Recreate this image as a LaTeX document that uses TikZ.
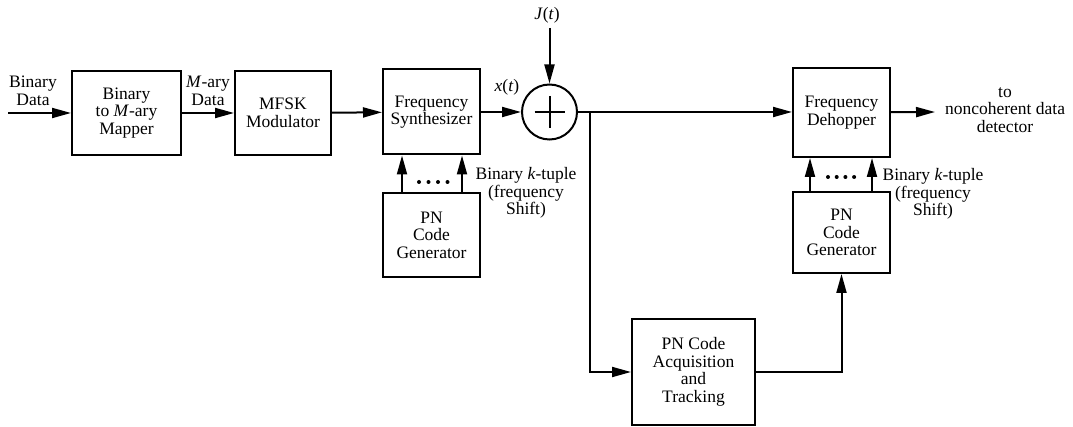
\documentclass[tikz,border=0pt]{standalone}
\usepackage{fontspec}
\setmainfont{Liberation Serif}
\usetikzlibrary{arrows.meta,calc}
\newcommand{\dfont}{\fontsize{17.5}{17.5}\selectfont}
\begin{document}
\begin{tikzpicture}[x=1pt,y=-1pt,
  blk/.style={draw,line width=2pt,align=center,inner sep=0pt,font=\dfont},
  lbl/.style={align=center,inner sep=0pt,font=\dfont},
  ln/.style={line width=2pt},
  arr/.style={line width=2pt,-{Triangle[length=19pt,width=10pt]}}]
\useasboundingbox (0,0) rectangle (1073,427);
% blocks
\node[blk,minimum width=109pt,minimum height=84pt] (map) at (126.5,113) {Binary\\to \textit{M}-ary\\Mapper};
\node[blk,minimum width=96pt,minimum height=84pt] (mod) at (283,113) {MFSK\\Modulator};
\node[blk,minimum width=97pt,minimum height=85pt] (syn) at (431.5,112) {Frequency\\Synthesizer};
\node[draw,circle,line width=2pt,minimum size=55pt,inner sep=0pt] (sum) at (549.5,112) {};
\node[blk,minimum width=97pt,minimum height=84pt] (pn1) at (431.5,235) {PN\\Code\\Generator};
\node[blk,minimum width=97pt,minimum height=89pt] (deh) at (841.5,112.5) {Frequency\\Dehopper};
\node[blk,minimum width=97pt,minimum height=81pt] (pn2) at (841.5,232.5) {PN\\Code\\Generator};
\node[blk,minimum width=123pt,minimum height=106pt] (acq) at (693.5,372) {PN Code\\Acquisition\\and\\Tracking};
% plus sign
\draw[ln] ($(sum.center)+(-15,0)$) -- ($(sum.center)+(15,0)$);
\draw[ln] ($(sum.center)+(0,-16)$) -- ($(sum.center)+(0,16)$);
% coordinates
\coordinate (in) at (8,113);
\coordinate (split) at (590,112);
\coordinate (jin) at (549.5,28);
\coordinate (out) at (935,112);
% connectors
\draw[arr] (in) -- (map);
\draw[arr] (map) -- (mod);
\draw[arr] (mod) -- (syn);
\draw[arr] (syn) -- (sum);
\draw[arr] (jin) -- (sum);
\draw[ln] (sum.east) -- (split);
\draw[arr] (split) -- (split -| deh.west);
\draw[arr] (deh) -- (out);
\draw[arr] (split) |- (acq);
\draw[arr] (acq) -| (pn2);
\draw[arr] ([xshift=-29.5pt]pn1.north) -- ([xshift=-29.5pt]syn.south);
\draw[arr] ([xshift=30.5pt]pn1.north) -- ([xshift=30.5pt]syn.south);
\draw[arr] ([xshift=-31.5pt]pn2.north) -- ([xshift=-31.5pt]deh.south);
\draw[arr] ([xshift=30.5pt]pn2.north) -- ([xshift=30.5pt]deh.south);
% dots
\foreach \i in {0,1,2,3} \fill (419+\i*9.5,182) circle (2pt);
\foreach \i in {0,1,2,3} \fill (828+\i*8.7,177) circle (2pt);
% labels
\node[lbl] (lbin) at (33,91) {Binary\\Data};
\node[lbl] (lmd) at (208,91) {\textit{M}-ary\\Data};
\node[lbl] (lx) at (507,87) {\textit{x}(\textit{t})};
\node[lbl] (lj) at (547,15) {\textit{J}(\textit{t})};
\node[lbl] (lk1) at (526,193) {Binary \textit{k}-tuple\\(frequency\\Shift)};
\node[lbl] (lk2) at (933,194) {Binary \textit{k}-tuple\\(frequency\\Shift)};
\node[lbl] (lout) at (1005,110) {to\\noncoherent data\\detector};
\end{tikzpicture}
\end{document}
